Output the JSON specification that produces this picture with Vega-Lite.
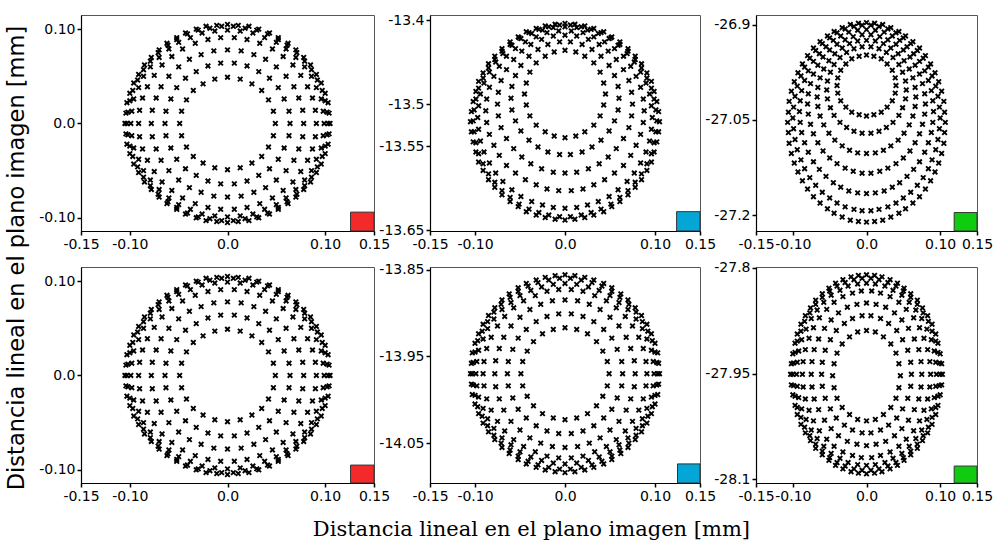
{
  "$schema": "https://vega.github.io/schema/vega-lite/v6.json",
  "background": "white",
  "padding": {"left": 5, "top": 12, "right": 5, "bottom": 5},
  "config": {
    "font": "DejaVu Sans",
    "view": {"stroke": "#555", "strokeWidth": 1},
    "axis": {"grid": false, "title": null, "domainColor": "black", "domainWidth": 1.2, "tickColor": "black", "tickWidth": 1.5, "tickSize": 4, "labelFont": "DejaVu Sans", "labelFontSize": 14, "labelColor": "black", "labelPadding": 2, "labelFlush": false, "labelOverlap": false}
  },
  "datasets": {
    "p1": [
      {"x":0.049,"y":0},{"x":-0.049,"y":0},
      {"x":0.047,"y":0.013},{"x":-0.047,"y":0.013},{"x":0.047,"y":-0.013},{"x":-0.047,"y":-0.013},
      {"x":0.042,"y":0.025},{"x":-0.042,"y":0.025},{"x":0.042,"y":-0.025},{"x":-0.042,"y":-0.025},
      {"x":0.035,"y":0.035},{"x":-0.035,"y":0.035},{"x":0.035,"y":-0.035},{"x":-0.035,"y":-0.035},
      {"x":0.025,"y":0.042},{"x":-0.025,"y":0.042},{"x":0.025,"y":-0.042},{"x":-0.025,"y":-0.042},
      {"x":0.013,"y":0.047},{"x":-0.013,"y":0.047},{"x":0.013,"y":-0.047},{"x":-0.013,"y":-0.047},
      {"x":0,"y":0.049},{"x":0,"y":-0.049},
      {"x":0.064,"y":0},{"x":-0.064,"y":0},
      {"x":0.063,"y":0.013},{"x":-0.063,"y":0.013},{"x":0.063,"y":-0.013},{"x":-0.063,"y":-0.013},
      {"x":0.058,"y":0.026},{"x":-0.058,"y":0.026},{"x":0.058,"y":-0.026},{"x":-0.058,"y":-0.026},
      {"x":0.052,"y":0.038},{"x":-0.052,"y":0.038},{"x":0.052,"y":-0.038},{"x":-0.052,"y":-0.038},
      {"x":0.043,"y":0.048},{"x":-0.043,"y":0.048},{"x":0.043,"y":-0.048},{"x":-0.043,"y":-0.048},
      {"x":0.032,"y":0.055},{"x":-0.032,"y":0.055},{"x":0.032,"y":-0.055},{"x":-0.032,"y":-0.055},
      {"x":0.02,"y":0.061},{"x":-0.02,"y":0.061},{"x":0.02,"y":-0.061},{"x":-0.02,"y":-0.061},
      {"x":0.007,"y":0.064},{"x":-0.007,"y":0.064},{"x":0.007,"y":-0.064},{"x":-0.007,"y":-0.064},
      {"x":0.078,"y":0},{"x":-0.078,"y":0},{"x":0,"y":0.078},{"x":0,"y":-0.078},
      {"x":0.077,"y":0.014},{"x":-0.077,"y":0.014},{"x":0.077,"y":-0.014},{"x":-0.077,"y":-0.014},
      {"x":0.073,"y":0.027},{"x":-0.073,"y":0.027},{"x":0.073,"y":-0.027},{"x":-0.073,"y":-0.027},
      {"x":0.068,"y":0.039},{"x":-0.068,"y":0.039},{"x":0.068,"y":-0.039},{"x":-0.068,"y":-0.039},
      {"x":0.06,"y":0.05},{"x":-0.06,"y":0.05},{"x":0.06,"y":-0.05},{"x":-0.06,"y":-0.05},
      {"x":0.05,"y":0.06},{"x":-0.05,"y":0.06},{"x":0.05,"y":-0.06},{"x":-0.05,"y":-0.06},
      {"x":0.039,"y":0.068},{"x":-0.039,"y":0.068},{"x":0.039,"y":-0.068},{"x":-0.039,"y":-0.068},
      {"x":0.027,"y":0.073},{"x":-0.027,"y":0.073},{"x":0.027,"y":-0.073},{"x":-0.027,"y":-0.073},
      {"x":0.014,"y":0.077},{"x":-0.014,"y":0.077},{"x":0.014,"y":-0.077},{"x":-0.014,"y":-0.077},
      {"x":0.091,"y":0},{"x":-0.091,"y":0},
      {"x":0.09,"y":0.014},{"x":-0.09,"y":0.014},{"x":0.09,"y":-0.014},{"x":-0.09,"y":-0.014},
      {"x":0.087,"y":0.027},{"x":-0.087,"y":0.027},{"x":0.087,"y":-0.027},{"x":-0.087,"y":-0.027},
      {"x":0.082,"y":0.039},{"x":-0.082,"y":0.039},{"x":0.082,"y":-0.039},{"x":-0.082,"y":-0.039},
      {"x":0.075,"y":0.051},{"x":-0.075,"y":0.051},{"x":0.075,"y":-0.051},{"x":-0.075,"y":-0.051},
      {"x":0.067,"y":0.062},{"x":-0.067,"y":0.062},{"x":0.067,"y":-0.062},{"x":-0.067,"y":-0.062},
      {"x":0.057,"y":0.071},{"x":-0.057,"y":0.071},{"x":0.057,"y":-0.071},{"x":-0.057,"y":-0.071},
      {"x":0.046,"y":0.079},{"x":-0.046,"y":0.079},{"x":0.046,"y":-0.079},{"x":-0.046,"y":-0.079},
      {"x":0.033,"y":0.085},{"x":-0.033,"y":0.085},{"x":0.033,"y":-0.085},{"x":-0.033,"y":-0.085},
      {"x":0.02,"y":0.089},{"x":-0.02,"y":0.089},{"x":0.02,"y":-0.089},{"x":-0.02,"y":-0.089},
      {"x":0.007,"y":0.091},{"x":-0.007,"y":0.091},{"x":0.007,"y":-0.091},{"x":-0.007,"y":-0.091},
      {"x":0.099,"y":0},{"x":-0.099,"y":0},{"x":0,"y":0.099},{"x":0,"y":-0.099},
      {"x":0.098,"y":0.013},{"x":-0.098,"y":0.013},{"x":0.098,"y":-0.013},{"x":-0.098,"y":-0.013},
      {"x":0.096,"y":0.026},{"x":-0.096,"y":0.026},{"x":0.096,"y":-0.026},{"x":-0.096,"y":-0.026},
      {"x":0.091,"y":0.038},{"x":-0.091,"y":0.038},{"x":0.091,"y":-0.038},{"x":-0.091,"y":-0.038},
      {"x":0.086,"y":0.05},{"x":-0.086,"y":0.05},{"x":0.086,"y":-0.05},{"x":-0.086,"y":-0.05},
      {"x":0.079,"y":0.06},{"x":-0.079,"y":0.06},{"x":0.079,"y":-0.06},{"x":-0.079,"y":-0.06},
      {"x":0.07,"y":0.07},{"x":-0.07,"y":0.07},{"x":0.07,"y":-0.07},{"x":-0.07,"y":-0.07},
      {"x":0.06,"y":0.079},{"x":-0.06,"y":0.079},{"x":0.06,"y":-0.079},{"x":-0.06,"y":-0.079},
      {"x":0.05,"y":0.086},{"x":-0.05,"y":0.086},{"x":0.05,"y":-0.086},{"x":-0.05,"y":-0.086},
      {"x":0.038,"y":0.091},{"x":-0.038,"y":0.091},{"x":0.038,"y":-0.091},{"x":-0.038,"y":-0.091},
      {"x":0.026,"y":0.096},{"x":-0.026,"y":0.096},{"x":0.026,"y":-0.096},{"x":-0.026,"y":-0.096},
      {"x":0.013,"y":0.098},{"x":-0.013,"y":0.098},{"x":0.013,"y":-0.098},{"x":-0.013,"y":-0.098},
      {"x":0.103,"y":0},{"x":-0.103,"y":0},
      {"x":0.102,"y":0.012},{"x":-0.102,"y":0.012},{"x":0.102,"y":-0.012},{"x":-0.102,"y":-0.012},
      {"x":0.1,"y":0.024},{"x":-0.1,"y":0.024},{"x":0.1,"y":-0.024},{"x":-0.1,"y":-0.024},
      {"x":0.097,"y":0.035},{"x":-0.097,"y":0.035},{"x":0.097,"y":-0.035},{"x":-0.097,"y":-0.035},
      {"x":0.092,"y":0.046},{"x":-0.092,"y":0.046},{"x":0.092,"y":-0.046},{"x":-0.092,"y":-0.046},
      {"x":0.086,"y":0.057},{"x":-0.086,"y":0.057},{"x":0.086,"y":-0.057},{"x":-0.086,"y":-0.057},
      {"x":0.079,"y":0.066},{"x":-0.079,"y":0.066},{"x":0.079,"y":-0.066},{"x":-0.079,"y":-0.066},
      {"x":0.071,"y":0.075},{"x":-0.071,"y":0.075},{"x":0.071,"y":-0.075},{"x":-0.071,"y":-0.075},
      {"x":0.061,"y":0.083},{"x":-0.061,"y":0.083},{"x":0.061,"y":-0.083},{"x":-0.061,"y":-0.083},
      {"x":0.052,"y":0.089},{"x":-0.052,"y":0.089},{"x":0.052,"y":-0.089},{"x":-0.052,"y":-0.089},
      {"x":0.041,"y":0.095},{"x":-0.041,"y":0.095},{"x":0.041,"y":-0.095},{"x":-0.041,"y":-0.095},
      {"x":0.03,"y":0.099},{"x":-0.03,"y":0.099},{"x":0.03,"y":-0.099},{"x":-0.03,"y":-0.099},
      {"x":0.018,"y":0.101},{"x":-0.018,"y":0.101},{"x":0.018,"y":-0.101},{"x":-0.018,"y":-0.101},
      {"x":0.006,"y":0.103},{"x":-0.006,"y":0.103},{"x":0.006,"y":-0.103},{"x":-0.006,"y":-0.103},
      {"x":0.105,"y":0},{"x":-0.105,"y":0},{"x":0,"y":0.105},{"x":0,"y":-0.105},
      {"x":0.104,"y":0.011},{"x":-0.104,"y":0.011},{"x":0.104,"y":-0.011},{"x":-0.104,"y":-0.011},
      {"x":0.103,"y":0.022},{"x":-0.103,"y":0.022},{"x":0.103,"y":-0.022},{"x":-0.103,"y":-0.022},
      {"x":0.1,"y":0.032},{"x":-0.1,"y":0.032},{"x":0.1,"y":-0.032},{"x":-0.1,"y":-0.032},
      {"x":0.096,"y":0.043},{"x":-0.096,"y":0.043},{"x":0.096,"y":-0.043},{"x":-0.096,"y":-0.043},
      {"x":0.091,"y":0.052},{"x":-0.091,"y":0.052},{"x":0.091,"y":-0.052},{"x":-0.091,"y":-0.052},
      {"x":0.085,"y":0.062},{"x":-0.085,"y":0.062},{"x":0.085,"y":-0.062},{"x":-0.085,"y":-0.062},
      {"x":0.078,"y":0.07},{"x":-0.078,"y":0.07},{"x":0.078,"y":-0.07},{"x":-0.078,"y":-0.07},
      {"x":0.07,"y":0.078},{"x":-0.07,"y":0.078},{"x":0.07,"y":-0.078},{"x":-0.07,"y":-0.078},
      {"x":0.062,"y":0.085},{"x":-0.062,"y":0.085},{"x":0.062,"y":-0.085},{"x":-0.062,"y":-0.085},
      {"x":0.052,"y":0.091},{"x":-0.052,"y":0.091},{"x":0.052,"y":-0.091},{"x":-0.052,"y":-0.091},
      {"x":0.043,"y":0.096},{"x":-0.043,"y":0.096},{"x":0.043,"y":-0.096},{"x":-0.043,"y":-0.096},
      {"x":0.032,"y":0.1},{"x":-0.032,"y":0.1},{"x":0.032,"y":-0.1},{"x":-0.032,"y":-0.1},
      {"x":0.022,"y":0.103},{"x":-0.022,"y":0.103},{"x":0.022,"y":-0.103},{"x":-0.022,"y":-0.103},
      {"x":0.011,"y":0.104},{"x":-0.011,"y":0.104},{"x":0.011,"y":-0.104},{"x":-0.011,"y":-0.104}
    ],
    "p2": [
      {"x":0.045,"y":-13.488},{"x":-0.045,"y":-13.488},
      {"x":0.043,"y":-13.475},{"x":-0.043,"y":-13.475},{"x":0.043,"y":-13.501},{"x":-0.043,"y":-13.501},
      {"x":0.039,"y":-13.462},{"x":-0.039,"y":-13.462},{"x":0.039,"y":-13.514},{"x":-0.039,"y":-13.514},
      {"x":0.032,"y":-13.451},{"x":-0.032,"y":-13.451},{"x":0.032,"y":-13.525},{"x":-0.032,"y":-13.525},
      {"x":0.022,"y":-13.443},{"x":-0.022,"y":-13.443},{"x":0.022,"y":-13.533},{"x":-0.022,"y":-13.533},
      {"x":0.012,"y":-13.438},{"x":-0.012,"y":-13.438},{"x":0.012,"y":-13.538},{"x":-0.012,"y":-13.538},
      {"x":0,"y":-13.436},{"x":0,"y":-13.54},
      {"x":0.06,"y":-13.493},{"x":-0.06,"y":-13.493},
      {"x":0.059,"y":-13.479},{"x":-0.059,"y":-13.479},{"x":0.059,"y":-13.507},{"x":-0.059,"y":-13.507},
      {"x":0.055,"y":-13.466},{"x":-0.055,"y":-13.466},{"x":0.055,"y":-13.52},{"x":-0.055,"y":-13.52},
      {"x":0.049,"y":-13.454},{"x":-0.049,"y":-13.454},{"x":0.049,"y":-13.532},{"x":-0.049,"y":-13.532},
      {"x":0.04,"y":-13.443},{"x":-0.04,"y":-13.443},{"x":0.04,"y":-13.543},{"x":-0.04,"y":-13.543},
      {"x":0.03,"y":-13.435},{"x":-0.03,"y":-13.435},{"x":0.03,"y":-13.551},{"x":-0.03,"y":-13.551},
      {"x":0.019,"y":-13.429},{"x":-0.019,"y":-13.429},{"x":0.019,"y":-13.557},{"x":-0.019,"y":-13.557},
      {"x":0.006,"y":-13.426},{"x":-0.006,"y":-13.426},{"x":0.006,"y":-13.56},{"x":-0.006,"y":-13.56},
      {"x":0.075,"y":-13.5},{"x":-0.075,"y":-13.5},{"x":0,"y":-13.418},{"x":0,"y":-13.582},
      {"x":0.074,"y":-13.486},{"x":-0.074,"y":-13.486},{"x":0.074,"y":-13.514},{"x":-0.074,"y":-13.514},
      {"x":0.071,"y":-13.472},{"x":-0.071,"y":-13.472},{"x":0.071,"y":-13.528},{"x":-0.071,"y":-13.528},
      {"x":0.065,"y":-13.459},{"x":-0.065,"y":-13.459},{"x":0.065,"y":-13.541},{"x":-0.065,"y":-13.541},
      {"x":0.057,"y":-13.447},{"x":-0.057,"y":-13.447},{"x":0.057,"y":-13.553},{"x":-0.057,"y":-13.553},
      {"x":0.048,"y":-13.437},{"x":-0.048,"y":-13.437},{"x":0.048,"y":-13.563},{"x":-0.048,"y":-13.563},
      {"x":0.038,"y":-13.429},{"x":-0.038,"y":-13.429},{"x":0.038,"y":-13.571},{"x":-0.038,"y":-13.571},
      {"x":0.026,"y":-13.423},{"x":-0.026,"y":-13.423},{"x":0.026,"y":-13.577},{"x":-0.026,"y":-13.577},
      {"x":0.013,"y":-13.419},{"x":-0.013,"y":-13.419},{"x":0.013,"y":-13.581},{"x":-0.013,"y":-13.581},
      {"x":0.088,"y":-13.508},{"x":-0.088,"y":-13.508},
      {"x":0.087,"y":-13.494},{"x":-0.087,"y":-13.494},{"x":0.087,"y":-13.522},{"x":-0.087,"y":-13.522},
      {"x":0.084,"y":-13.48},{"x":-0.084,"y":-13.48},{"x":0.084,"y":-13.536},{"x":-0.084,"y":-13.536},
      {"x":0.079,"y":-13.467},{"x":-0.079,"y":-13.467},{"x":0.079,"y":-13.549},{"x":-0.079,"y":-13.549},
      {"x":0.073,"y":-13.455},{"x":-0.073,"y":-13.455},{"x":0.073,"y":-13.561},{"x":-0.073,"y":-13.561},
      {"x":0.065,"y":-13.443},{"x":-0.065,"y":-13.443},{"x":0.065,"y":-13.573},{"x":-0.065,"y":-13.573},
      {"x":0.055,"y":-13.434},{"x":-0.055,"y":-13.434},{"x":0.055,"y":-13.582},{"x":-0.055,"y":-13.582},
      {"x":0.044,"y":-13.426},{"x":-0.044,"y":-13.426},{"x":0.044,"y":-13.59},{"x":-0.044,"y":-13.59},
      {"x":0.032,"y":-13.42},{"x":-0.032,"y":-13.42},{"x":0.032,"y":-13.596},{"x":-0.032,"y":-13.596},
      {"x":0.02,"y":-13.415},{"x":-0.02,"y":-13.415},{"x":0.02,"y":-13.601},{"x":-0.02,"y":-13.601},
      {"x":0.007,"y":-13.413},{"x":-0.007,"y":-13.413},{"x":0.007,"y":-13.603},{"x":-0.007,"y":-13.603},
      {"x":0.097,"y":-13.516},{"x":-0.097,"y":-13.516},{"x":0,"y":-13.408},{"x":0,"y":-13.624},
      {"x":0.096,"y":-13.502},{"x":-0.096,"y":-13.502},{"x":0.096,"y":-13.53},{"x":-0.096,"y":-13.53},
      {"x":0.094,"y":-13.488},{"x":-0.094,"y":-13.488},{"x":0.094,"y":-13.544},{"x":-0.094,"y":-13.544},
      {"x":0.09,"y":-13.475},{"x":-0.09,"y":-13.475},{"x":0.09,"y":-13.557},{"x":-0.09,"y":-13.557},
      {"x":0.084,"y":-13.462},{"x":-0.084,"y":-13.462},{"x":0.084,"y":-13.57},{"x":-0.084,"y":-13.57},
      {"x":0.077,"y":-13.45},{"x":-0.077,"y":-13.45},{"x":0.077,"y":-13.582},{"x":-0.077,"y":-13.582},
      {"x":0.069,"y":-13.44},{"x":-0.069,"y":-13.44},{"x":0.069,"y":-13.592},{"x":-0.069,"y":-13.592},
      {"x":0.059,"y":-13.43},{"x":-0.059,"y":-13.43},{"x":0.059,"y":-13.602},{"x":-0.059,"y":-13.602},
      {"x":0.049,"y":-13.422},{"x":-0.049,"y":-13.422},{"x":0.049,"y":-13.61},{"x":-0.049,"y":-13.61},
      {"x":0.037,"y":-13.416},{"x":-0.037,"y":-13.416},{"x":0.037,"y":-13.616},{"x":-0.037,"y":-13.616},
      {"x":0.025,"y":-13.412},{"x":-0.025,"y":-13.412},{"x":0.025,"y":-13.62},{"x":-0.025,"y":-13.62},
      {"x":0.013,"y":-13.409},{"x":-0.013,"y":-13.409},{"x":0.013,"y":-13.623},{"x":-0.013,"y":-13.623},
      {"x":0.102,"y":-13.52},{"x":-0.102,"y":-13.52},
      {"x":0.101,"y":-13.507},{"x":-0.101,"y":-13.507},{"x":0.101,"y":-13.533},{"x":-0.101,"y":-13.533},
      {"x":0.099,"y":-13.494},{"x":-0.099,"y":-13.494},{"x":0.099,"y":-13.546},{"x":-0.099,"y":-13.546},
      {"x":0.096,"y":-13.481},{"x":-0.096,"y":-13.481},{"x":0.096,"y":-13.559},{"x":-0.096,"y":-13.559},
      {"x":0.091,"y":-13.469},{"x":-0.091,"y":-13.469},{"x":0.091,"y":-13.571},{"x":-0.091,"y":-13.571},
      {"x":0.085,"y":-13.457},{"x":-0.085,"y":-13.457},{"x":0.085,"y":-13.583},{"x":-0.085,"y":-13.583},
      {"x":0.078,"y":-13.447},{"x":-0.078,"y":-13.447},{"x":0.078,"y":-13.593},{"x":-0.078,"y":-13.593},
      {"x":0.07,"y":-13.437},{"x":-0.07,"y":-13.437},{"x":0.07,"y":-13.603},{"x":-0.07,"y":-13.603},
      {"x":0.061,"y":-13.429},{"x":-0.061,"y":-13.429},{"x":0.061,"y":-13.611},{"x":-0.061,"y":-13.611},
      {"x":0.051,"y":-13.421},{"x":-0.051,"y":-13.421},{"x":0.051,"y":-13.619},{"x":-0.051,"y":-13.619},
      {"x":0.04,"y":-13.415},{"x":-0.04,"y":-13.415},{"x":0.04,"y":-13.625},{"x":-0.04,"y":-13.625},
      {"x":0.029,"y":-13.411},{"x":-0.029,"y":-13.411},{"x":0.029,"y":-13.629},{"x":-0.029,"y":-13.629},
      {"x":0.018,"y":-13.408},{"x":-0.018,"y":-13.408},{"x":0.018,"y":-13.632},{"x":-0.018,"y":-13.632},
      {"x":0.006,"y":-13.406},{"x":-0.006,"y":-13.406},{"x":0.006,"y":-13.634},{"x":-0.006,"y":-13.634},
      {"x":0.105,"y":-13.521},{"x":-0.105,"y":-13.521},{"x":0,"y":-13.404},{"x":0,"y":-13.638},
      {"x":0.104,"y":-13.509},{"x":-0.104,"y":-13.509},{"x":0.104,"y":-13.533},{"x":-0.104,"y":-13.533},
      {"x":0.102,"y":-13.497},{"x":-0.102,"y":-13.497},{"x":0.102,"y":-13.545},{"x":-0.102,"y":-13.545},
      {"x":0.099,"y":-13.485},{"x":-0.099,"y":-13.485},{"x":0.099,"y":-13.557},{"x":-0.099,"y":-13.557},
      {"x":0.096,"y":-13.473},{"x":-0.096,"y":-13.473},{"x":0.096,"y":-13.569},{"x":-0.096,"y":-13.569},
      {"x":0.091,"y":-13.463},{"x":-0.091,"y":-13.463},{"x":0.091,"y":-13.579},{"x":-0.091,"y":-13.579},
      {"x":0.085,"y":-13.452},{"x":-0.085,"y":-13.452},{"x":0.085,"y":-13.59},{"x":-0.085,"y":-13.59},
      {"x":0.078,"y":-13.443},{"x":-0.078,"y":-13.443},{"x":0.078,"y":-13.599},{"x":-0.078,"y":-13.599},
      {"x":0.07,"y":-13.434},{"x":-0.07,"y":-13.434},{"x":0.07,"y":-13.608},{"x":-0.07,"y":-13.608},
      {"x":0.061,"y":-13.426},{"x":-0.061,"y":-13.426},{"x":0.061,"y":-13.616},{"x":-0.061,"y":-13.616},
      {"x":0.052,"y":-13.42},{"x":-0.052,"y":-13.42},{"x":0.052,"y":-13.622},{"x":-0.052,"y":-13.622},
      {"x":0.043,"y":-13.414},{"x":-0.043,"y":-13.414},{"x":0.043,"y":-13.628},{"x":-0.043,"y":-13.628},
      {"x":0.032,"y":-13.41},{"x":-0.032,"y":-13.41},{"x":0.032,"y":-13.632},{"x":-0.032,"y":-13.632},
      {"x":0.022,"y":-13.407},{"x":-0.022,"y":-13.407},{"x":0.022,"y":-13.635},{"x":-0.022,"y":-13.635},
      {"x":0.011,"y":-13.405},{"x":-0.011,"y":-13.405},{"x":0.011,"y":-13.637},{"x":-0.011,"y":-13.637}
    ],
    "p3": [
      {"x":0.04,"y":-26.996},{"x":-0.04,"y":-26.996},{"x":0,"y":-26.948},{"x":0,"y":-27.044},
      {"x":0.039,"y":-26.984},{"x":-0.039,"y":-26.984},{"x":0.039,"y":-27.008},{"x":-0.039,"y":-27.008},
      {"x":0.035,"y":-26.972},{"x":-0.035,"y":-26.972},{"x":0.035,"y":-27.02},{"x":-0.035,"y":-27.02},
      {"x":0.028,"y":-26.962},{"x":-0.028,"y":-26.962},{"x":0.028,"y":-27.03},{"x":-0.028,"y":-27.03},
      {"x":0.02,"y":-26.954},{"x":-0.02,"y":-26.954},{"x":0.02,"y":-27.038},{"x":-0.02,"y":-27.038},
      {"x":0.01,"y":-26.95},{"x":-0.01,"y":-26.95},{"x":0.01,"y":-27.042},{"x":-0.01,"y":-27.042},
      {"x":0.054,"y":-27.003},{"x":-0.054,"y":-27.003},
      {"x":0.053,"y":-26.989},{"x":-0.053,"y":-26.989},{"x":0.053,"y":-27.017},{"x":-0.053,"y":-27.017},
      {"x":0.049,"y":-26.975},{"x":-0.049,"y":-26.975},{"x":0.049,"y":-27.031},{"x":-0.049,"y":-27.031},
      {"x":0.044,"y":-26.963},{"x":-0.044,"y":-26.963},{"x":0.044,"y":-27.043},{"x":-0.044,"y":-27.043},
      {"x":0.036,"y":-26.952},{"x":-0.036,"y":-26.952},{"x":0.036,"y":-27.054},{"x":-0.036,"y":-27.054},
      {"x":0.027,"y":-26.944},{"x":-0.027,"y":-26.944},{"x":0.027,"y":-27.062},{"x":-0.027,"y":-27.062},
      {"x":0.017,"y":-26.938},{"x":-0.017,"y":-26.938},{"x":0.017,"y":-27.068},{"x":-0.017,"y":-27.068},
      {"x":0.006,"y":-26.935},{"x":-0.006,"y":-26.935},{"x":0.006,"y":-27.071},{"x":-0.006,"y":-27.071},
      {"x":0.067,"y":-27.014},{"x":-0.067,"y":-27.014},{"x":0,"y":-26.925},{"x":0,"y":-27.103},
      {"x":0.066,"y":-26.999},{"x":-0.066,"y":-26.999},{"x":0.066,"y":-27.029},{"x":-0.066,"y":-27.029},
      {"x":0.063,"y":-26.984},{"x":-0.063,"y":-26.984},{"x":0.063,"y":-27.044},{"x":-0.063,"y":-27.044},
      {"x":0.058,"y":-26.97},{"x":-0.058,"y":-26.97},{"x":0.058,"y":-27.058},{"x":-0.058,"y":-27.058},
      {"x":0.051,"y":-26.957},{"x":-0.051,"y":-26.957},{"x":0.051,"y":-27.071},{"x":-0.051,"y":-27.071},
      {"x":0.043,"y":-26.946},{"x":-0.043,"y":-26.946},{"x":0.043,"y":-27.082},{"x":-0.043,"y":-27.082},
      {"x":0.033,"y":-26.937},{"x":-0.033,"y":-26.937},{"x":0.033,"y":-27.091},{"x":-0.033,"y":-27.091},
      {"x":0.023,"y":-26.93},{"x":-0.023,"y":-26.93},{"x":0.023,"y":-27.098},{"x":-0.023,"y":-27.098},
      {"x":0.012,"y":-26.926},{"x":-0.012,"y":-26.926},{"x":0.012,"y":-27.102},{"x":-0.012,"y":-27.102},
      {"x":0.08,"y":-27.025},{"x":-0.08,"y":-27.025},
      {"x":0.079,"y":-27.009},{"x":-0.079,"y":-27.009},{"x":0.079,"y":-27.041},{"x":-0.079,"y":-27.041},
      {"x":0.076,"y":-26.993},{"x":-0.076,"y":-26.993},{"x":0.076,"y":-27.057},{"x":-0.076,"y":-27.057},
      {"x":0.072,"y":-26.978},{"x":-0.072,"y":-26.978},{"x":0.072,"y":-27.072},{"x":-0.072,"y":-27.072},
      {"x":0.066,"y":-26.964},{"x":-0.066,"y":-26.964},{"x":0.066,"y":-27.086},{"x":-0.066,"y":-27.086},
      {"x":0.059,"y":-26.951},{"x":-0.059,"y":-26.951},{"x":0.059,"y":-27.099},{"x":-0.059,"y":-27.099},
      {"x":0.05,"y":-26.94},{"x":-0.05,"y":-26.94},{"x":0.05,"y":-27.11},{"x":-0.05,"y":-27.11},
      {"x":0.04,"y":-26.931},{"x":-0.04,"y":-26.931},{"x":0.04,"y":-27.119},{"x":-0.04,"y":-27.119},
      {"x":0.029,"y":-26.924},{"x":-0.029,"y":-26.924},{"x":0.029,"y":-27.126},{"x":-0.029,"y":-27.126},
      {"x":0.018,"y":-26.919},{"x":-0.018,"y":-26.919},{"x":0.018,"y":-27.131},{"x":-0.018,"y":-27.131},
      {"x":0.006,"y":-26.916},{"x":-0.006,"y":-26.916},{"x":0.006,"y":-27.134},{"x":-0.006,"y":-27.134},
      {"x":0.091,"y":-27.037},{"x":-0.091,"y":-27.037},{"x":0,"y":-26.908},{"x":0,"y":-27.166},
      {"x":0.09,"y":-27.02},{"x":-0.09,"y":-27.02},{"x":0.09,"y":-27.054},{"x":-0.09,"y":-27.054},
      {"x":0.088,"y":-27.004},{"x":-0.088,"y":-27.004},{"x":0.088,"y":-27.07},{"x":-0.088,"y":-27.07},
      {"x":0.084,"y":-26.988},{"x":-0.084,"y":-26.988},{"x":0.084,"y":-27.086},{"x":-0.084,"y":-27.086},
      {"x":0.079,"y":-26.973},{"x":-0.079,"y":-26.973},{"x":0.079,"y":-27.101},{"x":-0.079,"y":-27.101},
      {"x":0.072,"y":-26.958},{"x":-0.072,"y":-26.958},{"x":0.072,"y":-27.116},{"x":-0.072,"y":-27.116},
      {"x":0.064,"y":-26.946},{"x":-0.064,"y":-26.946},{"x":0.064,"y":-27.128},{"x":-0.064,"y":-27.128},
      {"x":0.055,"y":-26.935},{"x":-0.055,"y":-26.935},{"x":0.055,"y":-27.139},{"x":-0.055,"y":-27.139},
      {"x":0.045,"y":-26.925},{"x":-0.045,"y":-26.925},{"x":0.045,"y":-27.149},{"x":-0.045,"y":-27.149},
      {"x":0.035,"y":-26.918},{"x":-0.035,"y":-26.918},{"x":0.035,"y":-27.156},{"x":-0.035,"y":-27.156},
      {"x":0.024,"y":-26.912},{"x":-0.024,"y":-26.912},{"x":0.024,"y":-27.162},{"x":-0.024,"y":-27.162},
      {"x":0.012,"y":-26.909},{"x":-0.012,"y":-26.909},{"x":0.012,"y":-27.165},{"x":-0.012,"y":-27.165},
      {"x":0.1,"y":-27.047},{"x":-0.1,"y":-27.047},
      {"x":0.099,"y":-27.03},{"x":-0.099,"y":-27.03},{"x":0.099,"y":-27.064},{"x":-0.099,"y":-27.064},
      {"x":0.097,"y":-27.013},{"x":-0.097,"y":-27.013},{"x":0.097,"y":-27.081},{"x":-0.097,"y":-27.081},
      {"x":0.094,"y":-26.997},{"x":-0.094,"y":-26.997},{"x":0.094,"y":-27.097},{"x":-0.094,"y":-27.097},
      {"x":0.089,"y":-26.981},{"x":-0.089,"y":-26.981},{"x":0.089,"y":-27.113},{"x":-0.089,"y":-27.113},
      {"x":0.084,"y":-26.967},{"x":-0.084,"y":-26.967},{"x":0.084,"y":-27.127},{"x":-0.084,"y":-27.127},
      {"x":0.077,"y":-26.953},{"x":-0.077,"y":-26.953},{"x":0.077,"y":-27.141},{"x":-0.077,"y":-27.141},
      {"x":0.069,"y":-26.941},{"x":-0.069,"y":-26.941},{"x":0.069,"y":-27.153},{"x":-0.069,"y":-27.153},
      {"x":0.06,"y":-26.93},{"x":-0.06,"y":-26.93},{"x":0.06,"y":-27.164},{"x":-0.06,"y":-27.164},
      {"x":0.05,"y":-26.921},{"x":-0.05,"y":-26.921},{"x":0.05,"y":-27.173},{"x":-0.05,"y":-27.173},
      {"x":0.04,"y":-26.913},{"x":-0.04,"y":-26.913},{"x":0.04,"y":-27.181},{"x":-0.04,"y":-27.181},
      {"x":0.029,"y":-26.907},{"x":-0.029,"y":-26.907},{"x":0.029,"y":-27.187},{"x":-0.029,"y":-27.187},
      {"x":0.017,"y":-26.903},{"x":-0.017,"y":-26.903},{"x":0.017,"y":-27.191},{"x":-0.017,"y":-27.191},
      {"x":0.006,"y":-26.901},{"x":-0.006,"y":-26.901},{"x":0.006,"y":-27.193},{"x":-0.006,"y":-27.193},
      {"x":0.107,"y":-27.054},{"x":-0.107,"y":-27.054},{"x":0,"y":-26.897},{"x":0,"y":-27.211},
      {"x":0.106,"y":-27.038},{"x":-0.106,"y":-27.038},{"x":0.106,"y":-27.07},{"x":-0.106,"y":-27.07},
      {"x":0.105,"y":-27.021},{"x":-0.105,"y":-27.021},{"x":0.105,"y":-27.087},{"x":-0.105,"y":-27.087},
      {"x":0.102,"y":-27.005},{"x":-0.102,"y":-27.005},{"x":0.102,"y":-27.103},{"x":-0.102,"y":-27.103},
      {"x":0.098,"y":-26.99},{"x":-0.098,"y":-26.99},{"x":0.098,"y":-27.118},{"x":-0.098,"y":-27.118},
      {"x":0.093,"y":-26.976},{"x":-0.093,"y":-26.976},{"x":0.093,"y":-27.132},{"x":-0.093,"y":-27.132},
      {"x":0.087,"y":-26.962},{"x":-0.087,"y":-26.962},{"x":0.087,"y":-27.146},{"x":-0.087,"y":-27.146},
      {"x":0.08,"y":-26.949},{"x":-0.08,"y":-26.949},{"x":0.08,"y":-27.159},{"x":-0.08,"y":-27.159},
      {"x":0.072,"y":-26.937},{"x":-0.072,"y":-26.937},{"x":0.072,"y":-27.171},{"x":-0.072,"y":-27.171},
      {"x":0.063,"y":-26.927},{"x":-0.063,"y":-26.927},{"x":0.063,"y":-27.181},{"x":-0.063,"y":-27.181},
      {"x":0.053,"y":-26.918},{"x":-0.053,"y":-26.918},{"x":0.053,"y":-27.19},{"x":-0.053,"y":-27.19},
      {"x":0.044,"y":-26.911},{"x":-0.044,"y":-26.911},{"x":0.044,"y":-27.197},{"x":-0.044,"y":-27.197},
      {"x":0.033,"y":-26.905},{"x":-0.033,"y":-26.905},{"x":0.033,"y":-27.203},{"x":-0.033,"y":-27.203},
      {"x":0.022,"y":-26.9},{"x":-0.022,"y":-26.9},{"x":0.022,"y":-27.208},{"x":-0.022,"y":-27.208},
      {"x":0.011,"y":-26.898},{"x":-0.011,"y":-26.898},{"x":0.011,"y":-27.21},{"x":-0.011,"y":-27.21}
    ],
    "p5": [
      {"x":0.049,"y":-13.97},{"x":-0.049,"y":-13.97},{"x":0,"y":-13.917},{"x":0,"y":-14.023},
      {"x":0.047,"y":-13.956},{"x":-0.047,"y":-13.956},{"x":0.047,"y":-13.984},{"x":-0.047,"y":-13.984},
      {"x":0.042,"y":-13.944},{"x":-0.042,"y":-13.944},{"x":0.042,"y":-13.996},{"x":-0.042,"y":-13.996},
      {"x":0.035,"y":-13.933},{"x":-0.035,"y":-13.933},{"x":0.035,"y":-14.007},{"x":-0.035,"y":-14.007},
      {"x":0.025,"y":-13.924},{"x":-0.025,"y":-13.924},{"x":0.025,"y":-14.016},{"x":-0.025,"y":-14.016},
      {"x":0.013,"y":-13.919},{"x":-0.013,"y":-13.919},{"x":0.013,"y":-14.021},{"x":-0.013,"y":-14.021},
      {"x":0.064,"y":-13.97},{"x":-0.064,"y":-13.97},
      {"x":0.063,"y":-13.956},{"x":-0.063,"y":-13.956},{"x":0.063,"y":-13.984},{"x":-0.063,"y":-13.984},
      {"x":0.058,"y":-13.942},{"x":-0.058,"y":-13.942},{"x":0.058,"y":-13.998},{"x":-0.058,"y":-13.998},
      {"x":0.052,"y":-13.929},{"x":-0.052,"y":-13.929},{"x":0.052,"y":-14.011},{"x":-0.052,"y":-14.011},
      {"x":0.043,"y":-13.919},{"x":-0.043,"y":-13.919},{"x":0.043,"y":-14.021},{"x":-0.043,"y":-14.021},
      {"x":0.032,"y":-13.91},{"x":-0.032,"y":-13.91},{"x":0.032,"y":-14.03},{"x":-0.032,"y":-14.03},
      {"x":0.02,"y":-13.904},{"x":-0.02,"y":-13.904},{"x":0.02,"y":-14.036},{"x":-0.02,"y":-14.036},
      {"x":0.007,"y":-13.901},{"x":-0.007,"y":-13.901},{"x":0.007,"y":-14.039},{"x":-0.007,"y":-14.039},
      {"x":0.078,"y":-13.97},{"x":-0.078,"y":-13.97},{"x":0,"y":-13.885},{"x":0,"y":-14.055},
      {"x":0.077,"y":-13.955},{"x":-0.077,"y":-13.955},{"x":0.077,"y":-13.985},{"x":-0.077,"y":-13.985},
      {"x":0.073,"y":-13.941},{"x":-0.073,"y":-13.941},{"x":0.073,"y":-13.999},{"x":-0.073,"y":-13.999},
      {"x":0.068,"y":-13.928},{"x":-0.068,"y":-13.928},{"x":0.068,"y":-14.012},{"x":-0.068,"y":-14.012},
      {"x":0.06,"y":-13.915},{"x":-0.06,"y":-13.915},{"x":0.06,"y":-14.025},{"x":-0.06,"y":-14.025},
      {"x":0.05,"y":-13.905},{"x":-0.05,"y":-13.905},{"x":0.05,"y":-14.035},{"x":-0.05,"y":-14.035},
      {"x":0.039,"y":-13.896},{"x":-0.039,"y":-13.896},{"x":0.039,"y":-14.044},{"x":-0.039,"y":-14.044},
      {"x":0.027,"y":-13.89},{"x":-0.027,"y":-13.89},{"x":0.027,"y":-14.05},{"x":-0.027,"y":-14.05},
      {"x":0.014,"y":-13.886},{"x":-0.014,"y":-13.886},{"x":0.014,"y":-14.054},{"x":-0.014,"y":-14.054},
      {"x":0.091,"y":-13.97},{"x":-0.091,"y":-13.97},
      {"x":0.09,"y":-13.956},{"x":-0.09,"y":-13.956},{"x":0.09,"y":-13.984},{"x":-0.09,"y":-13.984},
      {"x":0.087,"y":-13.941},{"x":-0.087,"y":-13.941},{"x":0.087,"y":-13.999},{"x":-0.087,"y":-13.999},
      {"x":0.082,"y":-13.928},{"x":-0.082,"y":-13.928},{"x":0.082,"y":-14.012},{"x":-0.082,"y":-14.012},
      {"x":0.075,"y":-13.915},{"x":-0.075,"y":-13.915},{"x":0.075,"y":-14.025},{"x":-0.075,"y":-14.025},
      {"x":0.067,"y":-13.904},{"x":-0.067,"y":-13.904},{"x":0.067,"y":-14.036},{"x":-0.067,"y":-14.036},
      {"x":0.057,"y":-13.894},{"x":-0.057,"y":-13.894},{"x":0.057,"y":-14.046},{"x":-0.057,"y":-14.046},
      {"x":0.046,"y":-13.886},{"x":-0.046,"y":-13.886},{"x":0.046,"y":-14.054},{"x":-0.046,"y":-14.054},
      {"x":0.033,"y":-13.88},{"x":-0.033,"y":-13.88},{"x":0.033,"y":-14.06},{"x":-0.033,"y":-14.06},
      {"x":0.02,"y":-13.875},{"x":-0.02,"y":-13.875},{"x":0.02,"y":-14.065},{"x":-0.02,"y":-14.065},
      {"x":0.007,"y":-13.873},{"x":-0.007,"y":-13.873},{"x":0.007,"y":-14.067},{"x":-0.007,"y":-14.067},
      {"x":0.099,"y":-13.97},{"x":-0.099,"y":-13.97},{"x":0,"y":-13.866},{"x":0,"y":-14.074},
      {"x":0.098,"y":-13.956},{"x":-0.098,"y":-13.956},{"x":0.098,"y":-13.984},{"x":-0.098,"y":-13.984},
      {"x":0.096,"y":-13.943},{"x":-0.096,"y":-13.943},{"x":0.096,"y":-13.997},{"x":-0.096,"y":-13.997},
      {"x":0.091,"y":-13.93},{"x":-0.091,"y":-13.93},{"x":0.091,"y":-14.01},{"x":-0.091,"y":-14.01},
      {"x":0.086,"y":-13.918},{"x":-0.086,"y":-13.918},{"x":0.086,"y":-14.022},{"x":-0.086,"y":-14.022},
      {"x":0.079,"y":-13.907},{"x":-0.079,"y":-13.907},{"x":0.079,"y":-14.033},{"x":-0.079,"y":-14.033},
      {"x":0.07,"y":-13.896},{"x":-0.07,"y":-13.896},{"x":0.07,"y":-14.044},{"x":-0.07,"y":-14.044},
      {"x":0.06,"y":-13.888},{"x":-0.06,"y":-13.888},{"x":0.06,"y":-14.052},{"x":-0.06,"y":-14.052},
      {"x":0.05,"y":-13.88},{"x":-0.05,"y":-13.88},{"x":0.05,"y":-14.06},{"x":-0.05,"y":-14.06},
      {"x":0.038,"y":-13.874},{"x":-0.038,"y":-13.874},{"x":0.038,"y":-14.066},{"x":-0.038,"y":-14.066},
      {"x":0.026,"y":-13.87},{"x":-0.026,"y":-13.87},{"x":0.026,"y":-14.07},{"x":-0.026,"y":-14.07},
      {"x":0.013,"y":-13.867},{"x":-0.013,"y":-13.867},{"x":0.013,"y":-14.073},{"x":-0.013,"y":-14.073},
      {"x":0.103,"y":-13.97},{"x":-0.103,"y":-13.97},
      {"x":0.102,"y":-13.957},{"x":-0.102,"y":-13.957},{"x":0.102,"y":-13.983},{"x":-0.102,"y":-13.983},
      {"x":0.1,"y":-13.945},{"x":-0.1,"y":-13.945},{"x":0.1,"y":-13.995},{"x":-0.1,"y":-13.995},
      {"x":0.097,"y":-13.932},{"x":-0.097,"y":-13.932},{"x":0.097,"y":-14.008},{"x":-0.097,"y":-14.008},
      {"x":0.092,"y":-13.921},{"x":-0.092,"y":-13.921},{"x":0.092,"y":-14.019},{"x":-0.092,"y":-14.019},
      {"x":0.086,"y":-13.91},{"x":-0.086,"y":-13.91},{"x":0.086,"y":-14.03},{"x":-0.086,"y":-14.03},
      {"x":0.079,"y":-13.899},{"x":-0.079,"y":-13.899},{"x":0.079,"y":-14.041},{"x":-0.079,"y":-14.041},
      {"x":0.071,"y":-13.89},{"x":-0.071,"y":-13.89},{"x":0.071,"y":-14.05},{"x":-0.071,"y":-14.05},
      {"x":0.061,"y":-13.882},{"x":-0.061,"y":-13.882},{"x":0.061,"y":-14.058},{"x":-0.061,"y":-14.058},
      {"x":0.052,"y":-13.875},{"x":-0.052,"y":-13.875},{"x":0.052,"y":-14.065},{"x":-0.052,"y":-14.065},
      {"x":0.041,"y":-13.869},{"x":-0.041,"y":-13.869},{"x":0.041,"y":-14.071},{"x":-0.041,"y":-14.071},
      {"x":0.03,"y":-13.865},{"x":-0.03,"y":-13.865},{"x":0.03,"y":-14.075},{"x":-0.03,"y":-14.075},
      {"x":0.018,"y":-13.862},{"x":-0.018,"y":-13.862},{"x":0.018,"y":-14.078},{"x":-0.018,"y":-14.078},
      {"x":0.006,"y":-13.86},{"x":-0.006,"y":-13.86},{"x":0.006,"y":-14.08},{"x":-0.006,"y":-14.08},
      {"x":0.105,"y":-13.97},{"x":-0.105,"y":-13.97},{"x":0,"y":-13.856},{"x":0,"y":-14.084},
      {"x":0.104,"y":-13.958},{"x":-0.104,"y":-13.958},{"x":0.104,"y":-13.982},{"x":-0.104,"y":-13.982},
      {"x":0.103,"y":-13.946},{"x":-0.103,"y":-13.946},{"x":0.103,"y":-13.994},{"x":-0.103,"y":-13.994},
      {"x":0.1,"y":-13.935},{"x":-0.1,"y":-13.935},{"x":0.1,"y":-14.005},{"x":-0.1,"y":-14.005},
      {"x":0.096,"y":-13.924},{"x":-0.096,"y":-13.924},{"x":0.096,"y":-14.016},{"x":-0.096,"y":-14.016},
      {"x":0.091,"y":-13.913},{"x":-0.091,"y":-13.913},{"x":0.091,"y":-14.027},{"x":-0.091,"y":-14.027},
      {"x":0.085,"y":-13.903},{"x":-0.085,"y":-13.903},{"x":0.085,"y":-14.037},{"x":-0.085,"y":-14.037},
      {"x":0.078,"y":-13.894},{"x":-0.078,"y":-13.894},{"x":0.078,"y":-14.046},{"x":-0.078,"y":-14.046},
      {"x":0.07,"y":-13.885},{"x":-0.07,"y":-13.885},{"x":0.07,"y":-14.055},{"x":-0.07,"y":-14.055},
      {"x":0.062,"y":-13.878},{"x":-0.062,"y":-13.878},{"x":0.062,"y":-14.062},{"x":-0.062,"y":-14.062},
      {"x":0.052,"y":-13.871},{"x":-0.052,"y":-13.871},{"x":0.052,"y":-14.069},{"x":-0.052,"y":-14.069},
      {"x":0.043,"y":-13.866},{"x":-0.043,"y":-13.866},{"x":0.043,"y":-14.074},{"x":-0.043,"y":-14.074},
      {"x":0.032,"y":-13.862},{"x":-0.032,"y":-13.862},{"x":0.032,"y":-14.078},{"x":-0.032,"y":-14.078},
      {"x":0.022,"y":-13.859},{"x":-0.022,"y":-13.859},{"x":0.022,"y":-14.081},{"x":-0.022,"y":-14.081},
      {"x":0.011,"y":-13.857},{"x":-0.011,"y":-13.857},{"x":0.011,"y":-14.083},{"x":-0.011,"y":-14.083}
    ],
    "p6": [
      {"x":0.046,"y":-27.953},{"x":-0.046,"y":-27.953},{"x":0,"y":-27.889},{"x":0,"y":-28.017},
      {"x":0.044,"y":-27.936},{"x":-0.044,"y":-27.936},{"x":0.044,"y":-27.97},{"x":-0.044,"y":-27.97},
      {"x":0.04,"y":-27.921},{"x":-0.04,"y":-27.921},{"x":0.04,"y":-27.985},{"x":-0.04,"y":-27.985},
      {"x":0.033,"y":-27.908},{"x":-0.033,"y":-27.908},{"x":0.033,"y":-27.998},{"x":-0.033,"y":-27.998},
      {"x":0.023,"y":-27.898},{"x":-0.023,"y":-27.898},{"x":0.023,"y":-28.008},{"x":-0.023,"y":-28.008},
      {"x":0.012,"y":-27.891},{"x":-0.012,"y":-27.891},{"x":0.012,"y":-28.015},{"x":-0.012,"y":-28.015},
      {"x":0.061,"y":-27.951},{"x":-0.061,"y":-27.951},
      {"x":0.06,"y":-27.934},{"x":-0.06,"y":-27.934},{"x":0.06,"y":-27.968},{"x":-0.06,"y":-27.968},
      {"x":0.056,"y":-27.917},{"x":-0.056,"y":-27.917},{"x":0.056,"y":-27.985},{"x":-0.056,"y":-27.985},
      {"x":0.049,"y":-27.902},{"x":-0.049,"y":-27.902},{"x":0.049,"y":-28},{"x":-0.049,"y":-28},
      {"x":0.041,"y":-27.889},{"x":-0.041,"y":-27.889},{"x":0.041,"y":-28.013},{"x":-0.041,"y":-28.013},
      {"x":0.03,"y":-27.879},{"x":-0.03,"y":-27.879},{"x":0.03,"y":-28.023},{"x":-0.03,"y":-28.023},
      {"x":0.019,"y":-27.872},{"x":-0.019,"y":-27.872},{"x":0.019,"y":-28.03},{"x":-0.019,"y":-28.03},
      {"x":0.006,"y":-27.868},{"x":-0.006,"y":-27.868},{"x":0.006,"y":-28.034},{"x":-0.006,"y":-28.034},
      {"x":0.075,"y":-27.951},{"x":-0.075,"y":-27.951},{"x":0,"y":-27.85},{"x":0,"y":-28.052},
      {"x":0.074,"y":-27.933},{"x":-0.074,"y":-27.933},{"x":0.074,"y":-27.969},{"x":-0.074,"y":-27.969},
      {"x":0.071,"y":-27.916},{"x":-0.071,"y":-27.916},{"x":0.071,"y":-27.986},{"x":-0.071,"y":-27.986},
      {"x":0.065,"y":-27.901},{"x":-0.065,"y":-27.901},{"x":0.065,"y":-28.001},{"x":-0.065,"y":-28.001},
      {"x":0.057,"y":-27.886},{"x":-0.057,"y":-27.886},{"x":0.057,"y":-28.016},{"x":-0.057,"y":-28.016},
      {"x":0.048,"y":-27.874},{"x":-0.048,"y":-27.874},{"x":0.048,"y":-28.028},{"x":-0.048,"y":-28.028},
      {"x":0.038,"y":-27.864},{"x":-0.038,"y":-27.864},{"x":0.038,"y":-28.038},{"x":-0.038,"y":-28.038},
      {"x":0.026,"y":-27.856},{"x":-0.026,"y":-27.856},{"x":0.026,"y":-28.046},{"x":-0.026,"y":-28.046},
      {"x":0.013,"y":-27.852},{"x":-0.013,"y":-27.852},{"x":0.013,"y":-28.05},{"x":-0.013,"y":-28.05},
      {"x":0.087,"y":-27.951},{"x":-0.087,"y":-27.951},
      {"x":0.086,"y":-27.933},{"x":-0.086,"y":-27.933},{"x":0.086,"y":-27.969},{"x":-0.086,"y":-27.969},
      {"x":0.083,"y":-27.916},{"x":-0.083,"y":-27.916},{"x":0.083,"y":-27.986},{"x":-0.083,"y":-27.986},
      {"x":0.078,"y":-27.9},{"x":-0.078,"y":-27.9},{"x":0.078,"y":-28.002},{"x":-0.078,"y":-28.002},
      {"x":0.072,"y":-27.885},{"x":-0.072,"y":-27.885},{"x":0.072,"y":-28.017},{"x":-0.072,"y":-28.017},
      {"x":0.064,"y":-27.871},{"x":-0.064,"y":-27.871},{"x":0.064,"y":-28.031},{"x":-0.064,"y":-28.031},
      {"x":0.054,"y":-27.859},{"x":-0.054,"y":-27.859},{"x":0.054,"y":-28.043},{"x":-0.054,"y":-28.043},
      {"x":0.044,"y":-27.849},{"x":-0.044,"y":-27.849},{"x":0.044,"y":-28.053},{"x":-0.044,"y":-28.053},
      {"x":0.032,"y":-27.841},{"x":-0.032,"y":-27.841},{"x":0.032,"y":-28.061},{"x":-0.032,"y":-28.061},
      {"x":0.019,"y":-27.836},{"x":-0.019,"y":-27.836},{"x":0.019,"y":-28.066},{"x":-0.019,"y":-28.066},
      {"x":0.007,"y":-27.833},{"x":-0.007,"y":-27.833},{"x":0.007,"y":-28.069},{"x":-0.007,"y":-28.069},
      {"x":0.095,"y":-27.951},{"x":-0.095,"y":-27.951},{"x":0,"y":-27.822},{"x":0,"y":-28.08},
      {"x":0.094,"y":-27.934},{"x":-0.094,"y":-27.934},{"x":0.094,"y":-27.968},{"x":-0.094,"y":-27.968},
      {"x":0.092,"y":-27.918},{"x":-0.092,"y":-27.918},{"x":0.092,"y":-27.984},{"x":-0.092,"y":-27.984},
      {"x":0.088,"y":-27.902},{"x":-0.088,"y":-27.902},{"x":0.088,"y":-28},{"x":-0.088,"y":-28},
      {"x":0.082,"y":-27.887},{"x":-0.082,"y":-27.887},{"x":0.082,"y":-28.015},{"x":-0.082,"y":-28.015},
      {"x":0.075,"y":-27.872},{"x":-0.075,"y":-27.872},{"x":0.075,"y":-28.03},{"x":-0.075,"y":-28.03},
      {"x":0.067,"y":-27.86},{"x":-0.067,"y":-27.86},{"x":0.067,"y":-28.042},{"x":-0.067,"y":-28.042},
      {"x":0.058,"y":-27.849},{"x":-0.058,"y":-27.849},{"x":0.058,"y":-28.053},{"x":-0.058,"y":-28.053},
      {"x":0.048,"y":-27.839},{"x":-0.048,"y":-27.839},{"x":0.048,"y":-28.063},{"x":-0.048,"y":-28.063},
      {"x":0.036,"y":-27.832},{"x":-0.036,"y":-27.832},{"x":0.036,"y":-28.07},{"x":-0.036,"y":-28.07},
      {"x":0.025,"y":-27.826},{"x":-0.025,"y":-27.826},{"x":0.025,"y":-28.076},{"x":-0.025,"y":-28.076},
      {"x":0.012,"y":-27.823},{"x":-0.012,"y":-27.823},{"x":0.012,"y":-28.079},{"x":-0.012,"y":-28.079},
      {"x":0.1,"y":-27.951},{"x":-0.1,"y":-27.951},
      {"x":0.099,"y":-27.935},{"x":-0.099,"y":-27.935},{"x":0.099,"y":-27.967},{"x":-0.099,"y":-27.967},
      {"x":0.097,"y":-27.92},{"x":-0.097,"y":-27.92},{"x":0.097,"y":-27.982},{"x":-0.097,"y":-27.982},
      {"x":0.094,"y":-27.904},{"x":-0.094,"y":-27.904},{"x":0.094,"y":-27.998},{"x":-0.094,"y":-27.998},
      {"x":0.089,"y":-27.89},{"x":-0.089,"y":-27.89},{"x":0.089,"y":-28.012},{"x":-0.089,"y":-28.012},
      {"x":0.084,"y":-27.876},{"x":-0.084,"y":-27.876},{"x":0.084,"y":-28.026},{"x":-0.084,"y":-28.026},
      {"x":0.077,"y":-27.864},{"x":-0.077,"y":-27.864},{"x":0.077,"y":-28.038},{"x":-0.077,"y":-28.038},
      {"x":0.069,"y":-27.852},{"x":-0.069,"y":-27.852},{"x":0.069,"y":-28.05},{"x":-0.069,"y":-28.05},
      {"x":0.06,"y":-27.842},{"x":-0.06,"y":-27.842},{"x":0.06,"y":-28.06},{"x":-0.06,"y":-28.06},
      {"x":0.05,"y":-27.833},{"x":-0.05,"y":-27.833},{"x":0.05,"y":-28.069},{"x":-0.05,"y":-28.069},
      {"x":0.04,"y":-27.826},{"x":-0.04,"y":-27.826},{"x":0.04,"y":-28.076},{"x":-0.04,"y":-28.076},
      {"x":0.029,"y":-27.821},{"x":-0.029,"y":-27.821},{"x":0.029,"y":-28.081},{"x":-0.029,"y":-28.081},
      {"x":0.017,"y":-27.817},{"x":-0.017,"y":-27.817},{"x":0.017,"y":-28.085},{"x":-0.017,"y":-28.085},
      {"x":0.006,"y":-27.815},{"x":-0.006,"y":-27.815},{"x":0.006,"y":-28.087},{"x":-0.006,"y":-28.087},
      {"x":0.103,"y":-27.951},{"x":-0.103,"y":-27.951},{"x":0,"y":-27.81},{"x":0,"y":-28.092},
      {"x":0.102,"y":-27.936},{"x":-0.102,"y":-27.936},{"x":0.102,"y":-27.966},{"x":-0.102,"y":-27.966},
      {"x":0.1,"y":-27.922},{"x":-0.1,"y":-27.922},{"x":0.1,"y":-27.98},{"x":-0.1,"y":-27.98},
      {"x":0.097,"y":-27.907},{"x":-0.097,"y":-27.907},{"x":0.097,"y":-27.995},{"x":-0.097,"y":-27.995},
      {"x":0.094,"y":-27.894},{"x":-0.094,"y":-27.894},{"x":0.094,"y":-28.008},{"x":-0.094,"y":-28.008},
      {"x":0.089,"y":-27.88},{"x":-0.089,"y":-27.88},{"x":0.089,"y":-28.022},{"x":-0.089,"y":-28.022},
      {"x":0.083,"y":-27.868},{"x":-0.083,"y":-27.868},{"x":0.083,"y":-28.034},{"x":-0.083,"y":-28.034},
      {"x":0.076,"y":-27.857},{"x":-0.076,"y":-27.857},{"x":0.076,"y":-28.045},{"x":-0.076,"y":-28.045},
      {"x":0.069,"y":-27.846},{"x":-0.069,"y":-27.846},{"x":0.069,"y":-28.056},{"x":-0.069,"y":-28.056},
      {"x":0.06,"y":-27.837},{"x":-0.06,"y":-27.837},{"x":0.06,"y":-28.065},{"x":-0.06,"y":-28.065},
      {"x":0.051,"y":-27.829},{"x":-0.051,"y":-27.829},{"x":0.051,"y":-28.073},{"x":-0.051,"y":-28.073},
      {"x":0.042,"y":-27.822},{"x":-0.042,"y":-27.822},{"x":0.042,"y":-28.08},{"x":-0.042,"y":-28.08},
      {"x":0.032,"y":-27.817},{"x":-0.032,"y":-27.817},{"x":0.032,"y":-28.085},{"x":-0.032,"y":-28.085},
      {"x":0.021,"y":-27.813},{"x":-0.021,"y":-27.813},{"x":0.021,"y":-28.089},{"x":-0.021,"y":-28.089},
      {"x":0.011,"y":-27.811},{"x":-0.011,"y":-27.811},{"x":0.011,"y":-28.091},{"x":-0.011,"y":-28.091}
    ]
  },
  "title": {"text": "Distancia lineal en el plano imagen [mm]", "orient": "bottom", "anchor": "middle", "font": "DejaVu Serif", "fontSize": 21, "fontWeight": "normal", "color": "black", "offset": 15, "dx": 32},
  "vconcat": [
    {
      "title": {"text": "Distancia lineal en el plano imagen [mm]", "orient": "left", "anchor": "middle", "font": "DejaVu Sans", "fontSize": 22.5, "fontWeight": "normal", "color": "black", "offset": 10},
      "columns": 3,
      "spacing": {"row": 36, "column": 56},
      "bounds": "flush",
      "concat": [
        {
          "width": 293, "height": 216,
          "layer": [
            {"data": {"name": "p1"},
             "mark": {"type": "point", "shape": "M-1,-1L1,1M1,-1L-1,1", "filled": false, "color": "black", "strokeWidth": 1.9, "size": 21, "opacity": 1},
             "encoding": {
               "x": {"field": "x", "type": "quantitative", "scale": {"domain": [-0.15, 0.15], "nice": false, "zero": false}, "axis": {"values": [-0.15, -0.1, 0, 0.1, 0.15], "labelExpr": "datum.value == 0 ? '0.0' : (datum.value < 0 ? '-' : '') + format(abs(datum.value), '.2f')"}},
               "y": {"field": "y", "type": "quantitative", "scale": {"domain": [-0.114, 0.115], "nice": false, "zero": false}, "axis": {"values": [-0.1, 0, 0.1], "labelExpr": "datum.value == 0 ? '0.0' : (datum.value < 0 ? '-' : '') + format(abs(datum.value), '.2f')"}}
             }},
            {"data": {"values": [{"x": 0.126, "x2": 0.15, "y": -0.094, "y2": -0.114}]},
             "mark": {"type": "rect", "fill": "#f42a2a", "stroke": "#333", "strokeWidth": 1},
             "encoding": {"x": {"field": "x", "type": "quantitative"}, "x2": {"field": "x2"}, "y": {"field": "y", "type": "quantitative"}, "y2": {"field": "y2"}}}
          ]
        },
        {
          "width": 270, "height": 216,
          "layer": [
            {"data": {"name": "p2"},
             "mark": {"type": "point", "shape": "M-1,-1L1,1M1,-1L-1,1", "filled": false, "color": "black", "strokeWidth": 1.9, "size": 21, "opacity": 1},
             "encoding": {
               "x": {"field": "x", "type": "quantitative", "scale": {"domain": [-0.15, 0.15], "nice": false, "zero": false}, "axis": {"values": [-0.15, -0.1, 0, 0.1, 0.15], "labelExpr": "datum.value == 0 ? '0.0' : (datum.value < 0 ? '-' : '') + format(abs(datum.value), '.2f')"}},
               "y": {"field": "y", "type": "quantitative", "scale": {"domain": [-13.651, -13.394], "nice": false, "zero": false}, "axis": {"values": [-13.65, -13.55, -13.5, -13.4], "labelExpr": "'-' + format(abs(datum.value), '.2~f')"}}
             }},
            {"data": {"values": [{"x": 0.124, "x2": 0.15, "y": -13.628, "y2": -13.651}]},
             "mark": {"type": "rect", "fill": "#03a6d6", "stroke": "#333", "strokeWidth": 1},
             "encoding": {"x": {"field": "x", "type": "quantitative"}, "x2": {"field": "x2"}, "y": {"field": "y", "type": "quantitative"}, "y2": {"field": "y2"}}}
          ]
        },
        {
          "width": 221, "height": 216,
          "layer": [
            {"data": {"name": "p3"},
             "mark": {"type": "point", "shape": "M-1,-1L1,1M1,-1L-1,1", "filled": false, "color": "black", "strokeWidth": 1.9, "size": 21, "opacity": 1},
             "encoding": {
               "x": {"field": "x", "type": "quantitative", "scale": {"domain": [-0.15, 0.15], "nice": false, "zero": false}, "axis": {"values": [-0.15, -0.1, 0, 0.1, 0.15], "labelExpr": "datum.value == 0 ? '0.0' : (datum.value < 0 ? '-' : '') + format(abs(datum.value), '.2f')"}},
               "y": {"field": "y", "type": "quantitative", "scale": {"domain": [-27.225, -26.885], "nice": false, "zero": false}, "axis": {"values": [-27.2, -27.05, -26.9], "labelExpr": "'-' + format(abs(datum.value), '.2~f')"}}
             }},
            {"data": {"values": [{"x": 0.119, "x2": 0.15, "y": -27.196, "y2": -27.225}]},
             "mark": {"type": "rect", "fill": "#10cc10", "stroke": "#333", "strokeWidth": 1},
             "encoding": {"x": {"field": "x", "type": "quantitative"}, "x2": {"field": "x2"}, "y": {"field": "y", "type": "quantitative"}, "y2": {"field": "y2"}}}
          ]
        },
        {
          "width": 293, "height": 216,
          "layer": [
            {"data": {"name": "p1"},
             "mark": {"type": "point", "shape": "M-1,-1L1,1M1,-1L-1,1", "filled": false, "color": "black", "strokeWidth": 1.9, "size": 21, "opacity": 1},
             "encoding": {
               "x": {"field": "x", "type": "quantitative", "scale": {"domain": [-0.15, 0.15], "nice": false, "zero": false}, "axis": {"values": [-0.15, -0.1, 0, 0.1, 0.15], "labelExpr": "datum.value == 0 ? '0.0' : (datum.value < 0 ? '-' : '') + format(abs(datum.value), '.2f')"}},
               "y": {"field": "y", "type": "quantitative", "scale": {"domain": [-0.114, 0.115], "nice": false, "zero": false}, "axis": {"values": [-0.1, 0, 0.1], "labelExpr": "datum.value == 0 ? '0.0' : (datum.value < 0 ? '-' : '') + format(abs(datum.value), '.2f')"}}
             }},
            {"data": {"values": [{"x": 0.126, "x2": 0.15, "y": -0.095, "y2": -0.114}]},
             "mark": {"type": "rect", "fill": "#f42a2a", "stroke": "#333", "strokeWidth": 1},
             "encoding": {"x": {"field": "x", "type": "quantitative"}, "x2": {"field": "x2"}, "y": {"field": "y", "type": "quantitative"}, "y2": {"field": "y2"}}}
          ]
        },
        {
          "width": 270, "height": 216,
          "layer": [
            {"data": {"name": "p5"},
             "mark": {"type": "point", "shape": "M-1,-1L1,1M1,-1L-1,1", "filled": false, "color": "black", "strokeWidth": 1.9, "size": 21, "opacity": 1},
             "encoding": {
               "x": {"field": "x", "type": "quantitative", "scale": {"domain": [-0.15, 0.15], "nice": false, "zero": false}, "axis": {"values": [-0.15, -0.1, 0, 0.1, 0.15], "labelExpr": "datum.value == 0 ? '0.0' : (datum.value < 0 ? '-' : '') + format(abs(datum.value), '.2f')"}},
               "y": {"field": "y", "type": "quantitative", "scale": {"domain": [-14.096, -13.847], "nice": false, "zero": false}, "axis": {"values": [-14.05, -13.95, -13.85], "labelExpr": "'-' + format(abs(datum.value), '.2~f')"}}
             }},
            {"data": {"values": [{"x": 0.125, "x2": 0.15, "y": -14.074, "y2": -14.096}]},
             "mark": {"type": "rect", "fill": "#03a6d6", "stroke": "#333", "strokeWidth": 1},
             "encoding": {"x": {"field": "x", "type": "quantitative"}, "x2": {"field": "x2"}, "y": {"field": "y", "type": "quantitative"}, "y2": {"field": "y2"}}}
          ]
        },
        {
          "width": 221, "height": 216,
          "layer": [
            {"data": {"name": "p6"},
             "mark": {"type": "point", "shape": "M-1,-1L1,1M1,-1L-1,1", "filled": false, "color": "black", "strokeWidth": 1.9, "size": 21, "opacity": 1},
             "encoding": {
               "x": {"field": "x", "type": "quantitative", "scale": {"domain": [-0.15, 0.15], "nice": false, "zero": false}, "axis": {"values": [-0.15, -0.1, 0, 0.1, 0.15], "labelExpr": "datum.value == 0 ? '0.0' : (datum.value < 0 ? '-' : '') + format(abs(datum.value), '.2f')"}},
               "y": {"field": "y", "type": "quantitative", "scale": {"domain": [-28.105, -27.799], "nice": false, "zero": false}, "axis": {"values": [-28.1, -27.95, -27.8], "labelExpr": "'-' + format(abs(datum.value), '.2~f')"}}
             }},
            {"data": {"values": [{"x": 0.119, "x2": 0.15, "y": -28.081, "y2": -28.105}]},
             "mark": {"type": "rect", "fill": "#10cc10", "stroke": "#333", "strokeWidth": 1},
             "encoding": {"x": {"field": "x", "type": "quantitative"}, "x2": {"field": "x2"}, "y": {"field": "y", "type": "quantitative"}, "y2": {"field": "y2"}}}
          ]
        }
      ]
    }
  ]
}
